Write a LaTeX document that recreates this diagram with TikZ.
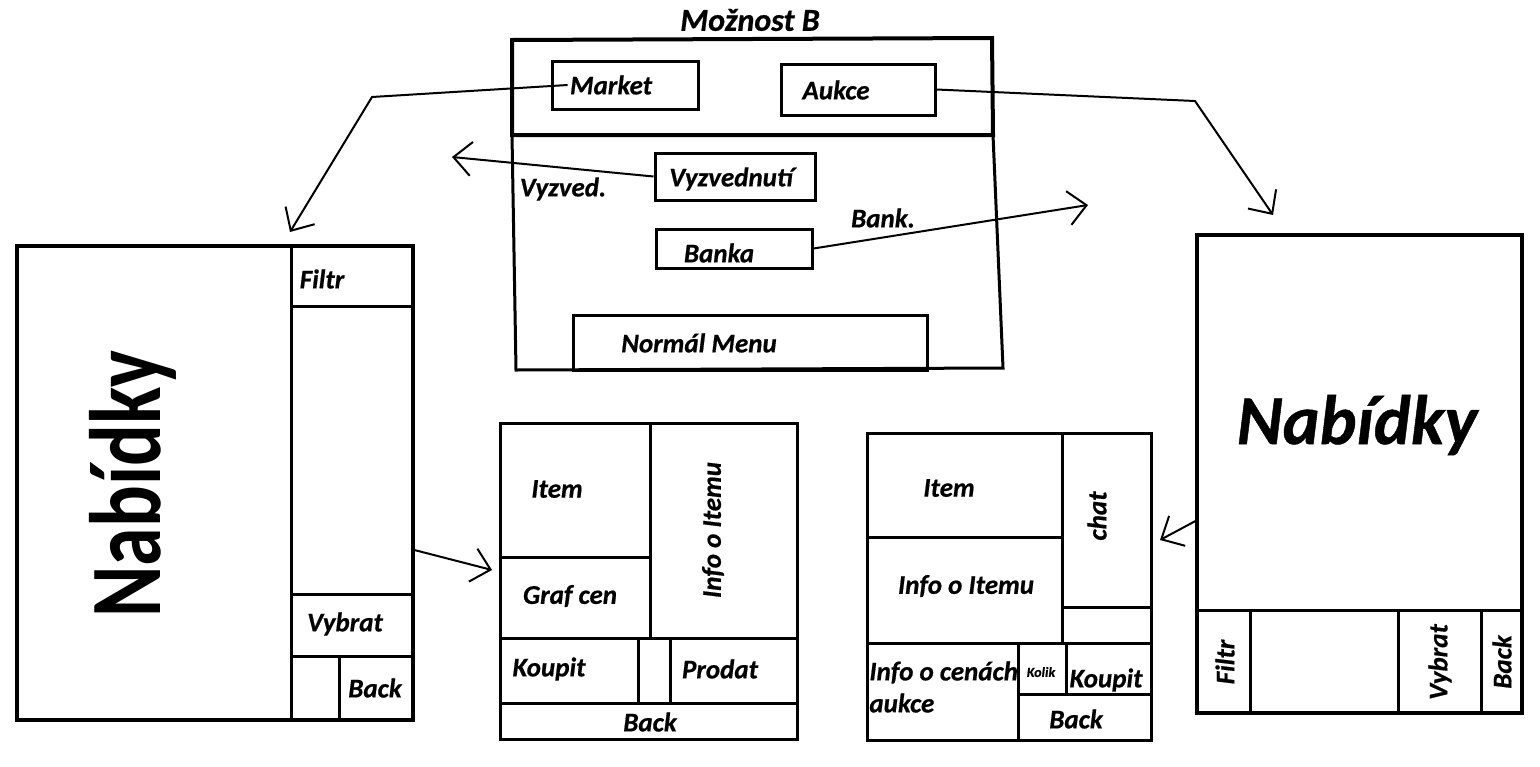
\documentclass[tikz,border=0pt]{standalone}
\usepackage{fontspec}
\setmainfont{Carlito}[BoldItalicFeatures={FakeBold=0.6}]
\usetikzlibrary{arrows.meta,fit,positioning}
\tikzset{
  okno/.style={draw, line width=1.5pt, inner sep=0pt},
  popis/.style={font=\fontsize{13.5}{16}\selectfont\bfseries\itshape, inner sep=1pt},
  sipka/.style={draw, line width=1pt, -{Straight Barb[length=9pt,width=17pt,line width=1pt]}}
}

\begin{document}
\begin{tikzpicture}[x=0.5pt, y=-0.5pt]
    \useasboundingbox (0,0) rectangle (1540,766);

    % hlavni menu (moznost B)
    \coordinate (B1) at (512,40);
    \coordinate (B2) at (992,38);
    \coordinate (B3) at (993,135);
    \coordinate (B4) at (512,135);
    \coordinate (B5) at (1003,368);
    \coordinate (B6) at (516,370);

    \draw[line width=2pt] (B1) -- (B2)
                      -- (B3)
                      -- (B4) -- cycle;
    \draw[line width=1.5pt] (B4) -- (B6)
                      -- (B5)
                      -- (B3);

    \node[popis, font=\fontsize{16}{18}\selectfont\bfseries\itshape] (nadpis) at (750,20) {Možnost B};

    \node[okno, fit={(552,61) (698,109)}] (market) {};
    \node[okno, fit={(781,64) (935,115)}] (aukce) {};
    \node[okno, fit={(655,153) (815,200)}] (vyzv) {};
    \node[okno, fit={(656,229) (812,268)}] (banka) {};
    \node[okno, fit={(573,315) (927,370)}] (normal) {};

    \node[popis] (marketT) at (611,85) {Market};
    \node[popis] (aukceT) at (836,90) {Aukce};
    \node[popis] (vyzvT) at (731,179) {Vyzvednutí};
    \node[popis] (bankaT) at (719,253) {Banka};
    \node[popis] (normalT) at (699,343) {Normál Menu};
    \node[popis] (vyzvL) at (563,189) {Vyzved.};
    \node[popis] (bankL) at (883,218) {Bank.};

    % levy panel - nabidky marketu
    \node[okno, line width=1.7pt, fit={(17,246) (413,720)}] (levy) {};
    \node[okno, fit={(291,246) (413,306)}] (lFiltr) {};
    \node[okno, fit={(291,306) (413,594)}] (lStred) {};
    \node[okno, fit={(291,594) (413,656)}] (lVybrat) {};
    \node[okno, fit={(291,656) (339,720)}] (lMezera) {};
    \node[okno, fit={(339,656) (413,720)}] (lBack) {};

    \node[popis, rotate=90, font=\fontsize{39}{40}\selectfont\bfseries] (lNab) at (133,484) {\scalebox{1}[1.3]{Nabídky}};
    \node[popis] (lFiltrT) at (322,279) {Filtr};
    \node[popis] (lVybratT) at (345,624) {Vybrat};
    \node[popis] (lBackT) at (375,688) {Back};

    % detail itemu (market)
    \node[okno, fit={(500,423) (797,739)}] (trh) {};
    \node[okno, fit={(500,423) (650,557)}] (tItem) {};
    \node[okno, fit={(500,557) (650,638)}] (tGraf) {};
    \node[okno, fit={(650,423) (797,638)}] (tInfo) {};
    \node[okno, fit={(500,638) (638,703)}] (tKoupit) {};
    \node[okno, fit={(638,638) (670,703)}] (tMezera) {};
    \node[okno, fit={(670,638) (797,703)}] (tProdat) {};
    \node[okno, fit={(500,703) (797,739)}] (tBack) {};

    \node[popis] (tItemT) at (557,489) {Item};
    \node[popis] (tGrafT) at (570,596) {Graf cen};
    \node[popis, rotate=90] (tInfoT) at (713,530) {Info o Itemu};
    \node[popis] (tKoupitT) at (549,669) {Koupit};
    \node[popis] (tProdatT) at (720,669) {Prodat};
    \node[popis] (tBackT) at (650,722) {Back};

    % detail aukce
    \node[okno, fit={(867,433) (1151,740)}] (aukcia) {};
    \node[okno, fit={(867,433) (1062,537)}] (aItem) {};
    \node[okno, fit={(867,537) (1062,643)}] (aInfo) {};
    \node[okno, fit={(1062,433) (1151,607)}] (aChat) {};
    \node[okno, fit={(1062,607) (1151,643)}] (aMezera) {};
    \node[okno, fit={(867,643) (1018,740)}] (aCeny) {};
    \node[okno, fit={(1018,643) (1066,694)}] (aKolik) {};
    \node[okno, fit={(1066,643) (1151,694)}] (aKoupit) {};
    \node[okno, fit={(1018,694) (1151,740)}] (aBack) {};

    \node[popis] (aItemT) at (949,488) {Item};
    \node[popis] (aInfoT) at (966,586) {Info o Itemu};
    \node[popis, rotate=90] (aChatT) at (1097,516) {chat};
    \node[popis, align=left, anchor=west] (aCenyT) at (867,687) {Info o cenách\\aukce};
    \node[popis, font=\fontsize{7}{8}\selectfont\bfseries\itshape] (aKolikT) at (1041,672) {Kolik};
    \node[popis] (aKoupitT) at (1106,680) {Koupit};
    \node[popis] (aBackT) at (1076,719) {Back};

    % pravy panel - nabidky aukci
    \node[okno, line width=1.7pt, fit={(1197,235) (1522,713)}] (pravy) {};
    \node[okno, fit={(1197,610) (1250,713)}] (pFiltr) {};
    \node[okno, fit={(1250,610) (1398,713)}] (pStred) {};
    \node[okno, fit={(1398,610) (1481,713)}] (pVybrat) {};
    \node[okno, fit={(1481,610) (1522,713)}] (pBack) {};

    \node[popis, font=\fontsize{35}{38}\selectfont\bfseries\itshape] (pNab) at (1357,425) {Nabídky};
    \node[popis, rotate=90] (pFiltrT) at (1225,662) {Filtr};
    \node[popis, rotate=90] (pVybratT) at (1440,662) {Vybrat};
    \node[popis, rotate=90] (pBackT) at (1502,662) {Back};

    % sipky
    \coordinate (mZlom) at (372,97);
    \coordinate (mTip) at (290,232);
    \coordinate (aZlom) at (1195,101);
    \coordinate (aTip) at (1273,215);
    \coordinate (vTip) at (452,157);
    \coordinate (bTip) at (1088,205);
    \coordinate (tVstup) at (492,570);
    \coordinate (aVstup) at (1160,540);

    \draw[sipka] (marketT.west) -- (mZlom) -- (mTip);
    \draw[sipka] (aukce.east) -- (aZlom) -- (aTip);
    \draw[sipka] (vyzv.west) -- (vTip);
    \draw[sipka] (banka.east) -- (bTip);
    \draw[sipka] (lStred.-58) -- (tVstup);
    \draw[sipka] (pravy.196) -- (aVstup);
\end{tikzpicture}
\end{document}
